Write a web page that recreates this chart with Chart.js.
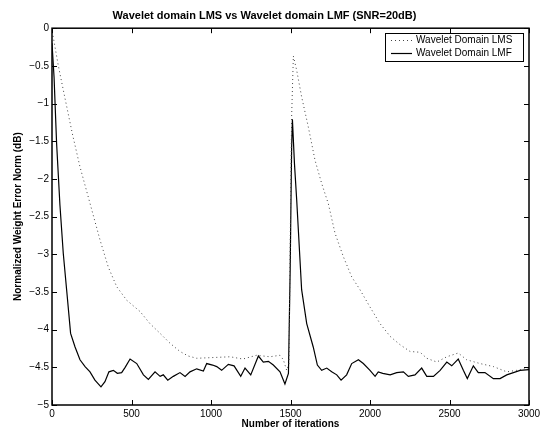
<!DOCTYPE html>
<html>
<head>
<meta charset="utf-8">
<script src="https://cdn.jsdelivr.net/npm/chart.js@4/dist/chart.umd.min.js"></script>
<style>
  body { margin: 0; background: #fff; }
  #wrap { width: 546px; height: 430px; position: relative; }
</style>
</head>
<body>
<div id="wrap"><canvas id="myChart"></canvas></div>
<script>
// tick positions
const xTicks = [0, 500, 1000, 1500, 2000, 2500, 3000];
const yTicks = [-5, -4.5, -4, -3.5, -3, -2.5, -2, -1.5, -1, -0.5, 0];

// Wavelet Domain LMS (dotted)
const lmsIter = [0, 8, 40, 71, 128, 176, 245, 302, 354, 407, 470, 554, 616, 680, 742, 805, 857, 910, 1015, 1120, 1200, 1287, 1371, 1434, 1455, 1476, 1490, 1500, 1507, 1518, 1539, 1570, 1612, 1654, 1696, 1738, 1780, 1832, 1885, 1937, 2000, 2063, 2127, 2189, 2252, 2315, 2357, 2420, 2483, 2555, 2608, 2692, 2776, 2860, 2923, 3000];
const lmsVal = [-0.05, -0.12, -0.5, -0.82, -1.40, -1.84, -2.37, -2.81, -3.17, -3.43, -3.61, -3.76, -3.92, -4.05, -4.18, -4.29, -4.35, -4.38, -4.37, -4.36, -4.39, -4.34, -4.36, -4.34, -4.40, -4.54, -4.45, -2.5, -1.18, -0.37, -0.56, -0.91, -1.31, -1.75, -2.06, -2.33, -2.72, -3.03, -3.30, -3.47, -3.70, -3.92, -4.09, -4.20, -4.29, -4.30, -4.38, -4.43, -4.36, -4.31, -4.40, -4.45, -4.49, -4.56, -4.54, -4.51];

// Wavelet Domain LMF (solid)
const lmfIter = [0, 13, 29, 50, 71, 92, 117, 145, 176, 208, 239, 270, 308, 333, 358, 386, 411, 438, 460, 491, 533, 575, 606, 648, 680, 700, 728, 763, 805, 837, 868, 910, 952, 973, 1010, 1036, 1067, 1109, 1145, 1187, 1214, 1250, 1298, 1329, 1361, 1392, 1434, 1465, 1487, 1498, 1507, 1512, 1525, 1539, 1570, 1602, 1643, 1669, 1696, 1728, 1759, 1791, 1818, 1853, 1885, 1927, 1958, 2000, 2032, 2052, 2080, 2127, 2168, 2210, 2241, 2283, 2325, 2357, 2399, 2441, 2483, 2514, 2555, 2587, 2612, 2650, 2681, 2723, 2776, 2818, 2860, 2902, 2944, 3000];
const lmfVal = [-0.2, -0.65, -1.53, -2.35, -2.99, -3.47, -4.05, -4.23, -4.40, -4.49, -4.56, -4.67, -4.76, -4.69, -4.56, -4.54, -4.58, -4.57, -4.50, -4.39, -4.45, -4.60, -4.66, -4.56, -4.62, -4.60, -4.67, -4.62, -4.57, -4.62, -4.56, -4.52, -4.55, -4.45, -4.47, -4.49, -4.54, -4.46, -4.48, -4.62, -4.51, -4.60, -4.35, -4.43, -4.42, -4.47, -4.56, -4.72, -4.58, -3.2, -1.6, -1.21, -1.8, -2.28, -3.47, -3.92, -4.23, -4.47, -4.54, -4.51, -4.56, -4.60, -4.67, -4.60, -4.45, -4.40, -4.45, -4.54, -4.62, -4.56, -4.58, -4.60, -4.57, -4.56, -4.62, -4.60, -4.51, -4.62, -4.62, -4.54, -4.43, -4.48, -4.39, -4.54, -4.65, -4.48, -4.57, -4.57, -4.65, -4.65, -4.60, -4.57, -4.54, -4.53];

const FONT = "'Liberation Sans', Arial, Helvetica, sans-serif";

function toPoints(xs, ys) {
  return xs.map((x, i) => ({ x: x, y: ys[i] }));
}

// box with inward ticks on all sides, plus the legend inside the plot
const boxPlugin = {
  id: 'box',
  afterDatasetsDraw(chart) {
    const ctx = chart.ctx;
    const a = chart.chartArea;
    const xs = chart.scales.x;
    const ys = chart.scales.y;
    ctx.save();
    ctx.strokeStyle = '#000';
    ctx.lineWidth = 1;
    ctx.beginPath();
    xTicks.forEach(v => {
      const px = Math.round(xs.getPixelForValue(v)) + 0.5;
      ctx.moveTo(px, a.bottom); ctx.lineTo(px, a.bottom - 5);
      ctx.moveTo(px, a.top); ctx.lineTo(px, a.top + 5);
    });
    yTicks.forEach(v => {
      const py = Math.round(ys.getPixelForValue(v)) + 0.5;
      ctx.moveTo(a.left, py); ctx.lineTo(a.left + 5, py);
      ctx.moveTo(a.right, py); ctx.lineTo(a.right - 5, py);
    });
    ctx.stroke();
    ctx.lineWidth = 1.5;
    ctx.strokeRect(a.left, a.top, a.right - a.left, a.bottom - a.top);

    // legend
    const lx = 385, ly = 33, lw = 138, lh = 28;
    ctx.fillStyle = '#fff';
    ctx.fillRect(lx, ly, lw, lh);
    ctx.lineWidth = 1;
    ctx.strokeRect(lx + 0.5, ly + 0.5, lw, lh);
    ctx.font = '10px ' + FONT;
    ctx.textBaseline = 'middle';
    chart.data.datasets.forEach((ds, i) => {
      const y = ly + 7.5 + i * 13;
      ctx.beginPath();
      ctx.strokeStyle = ds.borderColor;
      ctx.lineWidth = ds.borderWidth;
      ctx.setLineDash(ds.borderDash || []);
      ctx.moveTo(lx + 6, y);
      ctx.lineTo(lx + 27, y);
      ctx.stroke();
      ctx.setLineDash([]);
      ctx.fillStyle = '#000';
      ctx.fillText(ds.label, lx + 31, y);
    });
    ctx.restore();
  }
};

const ctx = document.getElementById('myChart').getContext('2d');
const myChart = new Chart(ctx, {
  type: 'line',
  data: {
    datasets: [{
      label: 'Wavelet Domain LMS',
      data: toPoints(lmsIter, lmsVal),
      borderColor: '#444',
      borderWidth: 1,
      borderDash: [1, 3],
      pointRadius: 0,
      tension: 0,
      fill: false
    }, {
      label: 'Wavelet Domain LMF',
      data: toPoints(lmfIter, lmfVal),
      borderColor: '#000',
      borderWidth: 1.2,
      pointRadius: 0,
      tension: 0,
      fill: false
    }]
  },
  options: {
    responsive: true,
    maintainAspectRatio: false,
    animation: false,
    layout: { padding: { left: 0, right: 17, top: 0, bottom: 0 } },
    plugins: {
      legend: { display: false },
      tooltip: { enabled: false },
      title: {
        display: true,
        text: 'Wavelet domain LMS vs Wavelet domain LMF (SNR=20dB)',
        color: '#000',
        font: { family: FONT, size: 11, weight: 'bold' },
        padding: { top: 9, bottom: 6 }
      }
    },
    scales: {
      x: {
        type: 'linear',
        min: 0,
        max: 3000,
        afterBuildTicks: s => { s.ticks = xTicks.map(v => ({ value: v })); },
        afterFit: s => { s.height = 25; },
        grid: { display: false, drawTicks: false },
        border: { display: false },
        ticks: {
          color: '#000',
          padding: 3,
          maxRotation: 0,
          font: { family: FONT, size: 10 },
          callback: v => String(v)
        },
        title: {
          display: true,
          text: 'Number of iterations',
          color: '#000',
          font: { family: FONT, size: 10, weight: 'bold' },
          padding: { top: 0, bottom: 0 }
        }
      },
      y: {
        type: 'linear',
        min: -5,
        max: 0,
        afterBuildTicks: s => { s.ticks = yTicks.map(v => ({ value: v })); },
        afterFit: s => { s.width = 52; },
        grid: { display: false, drawTicks: false },
        border: { display: false },
        ticks: {
          color: '#000',
          padding: 3,
          font: { family: FONT, size: 10 },
          callback: v => String(v).replace('-', '\u2212')
        },
        title: {
          display: true,
          text: 'Normalized Weight Error Norm (dB)',
          color: '#000',
          font: { family: FONT, size: 10, weight: 'bold' },
          padding: { top: 12, bottom: 0 }
        }
      }
    }
  },
  plugins: [boxPlugin]
});
</script>
</body>
</html>
